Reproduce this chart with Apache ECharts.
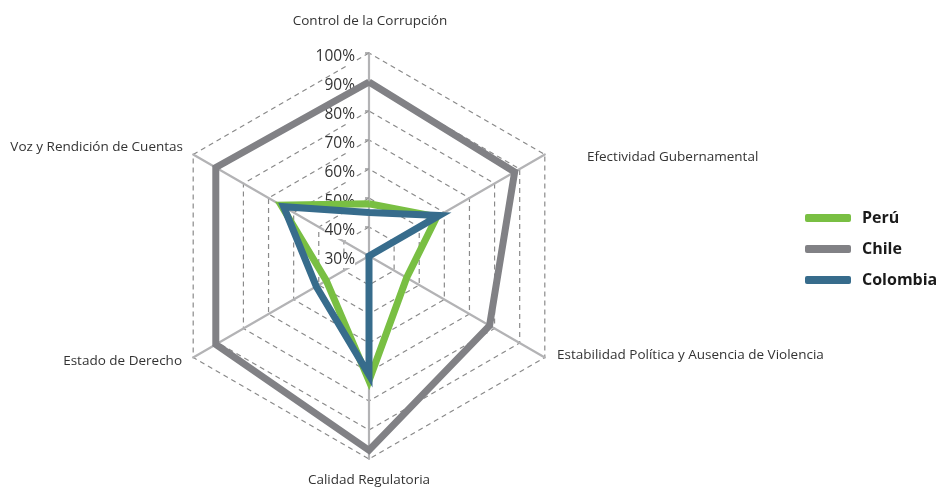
<!DOCTYPE html>
<html>
<head>
<meta charset="utf-8">
<script src="https://cdn.jsdelivr.net/npm/echarts@6/dist/echarts.min.js"></script>
<style>
  html, body { margin: 0; padding: 0; background: #fff; }
  #chart { width: 938px; height: 488px; }
</style>
</head>
<body>
<div id="chart"></div>
<script>
// categories in clockwise order starting at the top
const categories = [
  'Control de la Corrupción',
  'Efectividad Gubernamental',
  'Estabilidad Política y Ausencia de Violencia',
  'Calidad Regulatoria',
  'Estado de Derecho',
  'Voz y Rendición de Cuentas'
];
const peru = [48, 57, 45, 73, 47, 65];
const chile = [90, 88, 78, 97, 91, 91];
const colombia = [45, 58, 30, 71, 51, 64];
const axisMin = 30;
const axisMax = 100;

const seriesNames = ['Perú', 'Chile', 'Colombia'];
const seriesColors = ['#79bf43', '#818185', '#376c8c'];

// echarts lays out indicators counter-clockwise, so reorder
const order = [0, 5, 4, 3, 2, 1];
const pick = arr => order.map(i => arr[i]);

const chart = echarts.init(document.getElementById('chart'));

const cx = 369, cy = 256, radius = 203;

// label positions for the category names (placed like the original)
const namePos = [
  { x: 370, y: 21, align: 'center' },
  { x: 587, y: 157, align: 'left' },
  { x: 557, y: 355, align: 'left' },
  { x: 369, y: 480, align: 'center' },
  { x: 182, y: 361, align: 'right' },
  { x: 183, y: 147, align: 'right' }
];

const option = {
  animation: false,
  backgroundColor: '#fff',
  legend: {
    orient: 'vertical',
    left: 800,
    top: 205,
    itemWidth: 46,
    itemHeight: 8,
    itemGap: 15,
    icon: 'roundRect',
    data: seriesNames,
    textStyle: {
      fontFamily: 'Open Sans',
      fontWeight: 'bold',
      fontSize: 16,
      color: '#1a1a1a',
      padding: [0, 0, 0, 6]
    }
  },
  radar: {
    center: [cx, cy],
    radius: radius,
    startAngle: 90,
    splitNumber: 7,
    shape: 'polygon',
    axisName: { show: false },
    indicator: pick(categories).map((name, i) => ({
      name: name,
      min: axisMin,
      max: axisMax,
      axisLabel: { show: i === 0 },
      axisTick: { show: i === 0 }
    })),
    axisLine: { lineStyle: { color: '#b3b3b5', width: 2.2 } },
    axisTick: { show: false, length: 4, lineStyle: { color: '#9a9a9c', width: 1.5 } },
    axisLabel: {
      show: false,
      fontFamily: 'Open Sans',
      fontSize: 15.5,
      color: '#333',
      backgroundColor: '#fff',
      verticalAlign: 'top',
      padding: [-4, 0, 0, 0],
      margin: 14,
      formatter: v => v + '%'
    },
    splitLine: { lineStyle: { color: '#8a8a8a', width: 1.2, type: [5, 4] } },
    splitArea: { show: false }
  },
  graphic: categories.map((name, i) => ({
    type: 'text',
    x: namePos[i].x,
    y: namePos[i].y,
    style: {
      text: name,
      fill: '#333',
      font: '13.5px "Open Sans"',
      textAlign: namePos[i].align,
      textVerticalAlign: 'middle'
    }
  })),
  series: [{
    type: 'radar',
    symbol: 'none',
    data: [peru, chile, colombia].map((vals, i) => ({
      name: seriesNames[i],
      value: pick(vals),
      lineStyle: { color: seriesColors[i], width: 7, join: 'miter' },
      itemStyle: { color: seriesColors[i] }
    }))
  }]
};

chart.setOption(option);
</script>
</body>
</html>
